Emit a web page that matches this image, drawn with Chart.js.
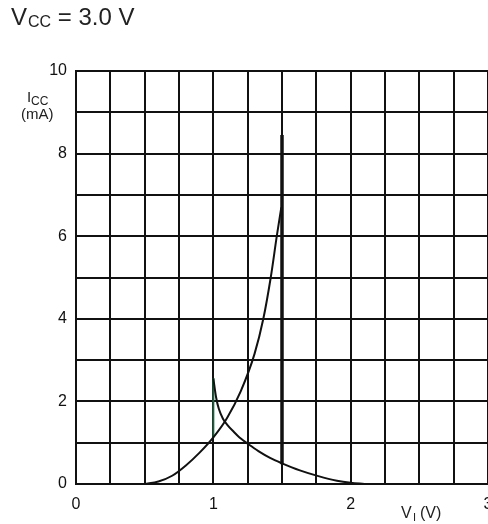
<!DOCTYPE html>
<html>
<head>
<meta charset="utf-8">
<script src="https://cdn.jsdelivr.net/npm/chart.js@4.4.0/dist/chart.umd.min.js"></script>
<style>
  html, body { margin: 0; padding: 0; background: #fff; overflow: hidden; }
  canvas { display: block; }
</style>
</head>
<body>
<canvas id="icc" width="488" height="524" style="width:488px;height:524px"></canvas>
<script>
// Icc vs VI at Vcc = 3.0 V
const risingV = [0.5, 0.6, 0.7, 0.8, 0.9, 1.0, 1.1, 1.2, 1.3, 1.364, 1.418, 1.462, 1.495];
const risingI = [0, 0.06, 0.2, 0.45, 0.76, 1.13, 1.6, 2.25, 3.15, 4.0, 5.0, 6.0, 6.7];

const fallingV = [1.0, 1.02, 1.04, 1.07, 1.1, 1.15, 1.2, 1.262, 1.34, 1.413, 1.5, 1.63, 1.765, 1.9, 2.0, 2.1];
const fallingI = [2.56, 2.1, 1.82, 1.58, 1.44, 1.26, 1.1, 0.95, 0.77, 0.63, 0.5, 0.33, 0.19, 0.08, 0.03, 0];

const jumpV = [1.5, 1.5];
const jumpI = [0.48, 8.45];

const stepV = [1.0, 1.0];
const stepI = [1.13, 2.56];

const xLabels = [0, 1, 2, 3];
const yLabels = [0, 2, 4, 6, 8, 10];

const FONT = "'Liberation Sans', Arial, sans-serif";
const INK = '#111111';

function pts(xs, ys) {
    return xs.map((x, i) => ({ x: x, y: ys[i] }));
}

// title + axis titles with subscripts
const labelsPlugin = {
    id: 'labels',
    afterDraw(chart) {
        const ctx = chart.ctx;
        ctx.save();
        ctx.fillStyle = '#222';
        ctx.textBaseline = 'alphabetic';
        ctx.textAlign = 'left';

        // V_CC = 3.0 V
        let x = 11;
        ctx.font = '24px ' + FONT;
        ctx.fillText('V', x, 25);
        x += ctx.measureText('V').width + 1;
        ctx.font = '16px ' + FONT;
        ctx.fillText('CC', x, 27);
        x += ctx.measureText('CC').width;
        ctx.font = '24px ' + FONT;
        ctx.fillText(' = 3.0 V', x, 25);

        // I_CC (mA)
        ctx.font = '15px ' + FONT;
        ctx.fillText('I', 27, 102);
        ctx.font = '12px ' + FONT;
        ctx.fillText('CC', 31, 105);
        ctx.font = '15px ' + FONT;
        ctx.fillText('(mA)', 21, 119);

        // V_I (V)
        ctx.font = '16px ' + FONT;
        ctx.fillText('V', 401, 518);
        ctx.font = '11px ' + FONT;
        ctx.fillText('I', 413, 521);
        ctx.font = '16px ' + FONT;
        ctx.fillText('(V)', 420, 518);
        ctx.restore();
    }
};

const ctx = document.getElementById('icc').getContext('2d');
new Chart(ctx, {
    type: 'scatter',
    data: {
        datasets: [
            { data: pts(risingV, risingI), showLine: true, borderColor: INK, borderWidth: 2, pointRadius: 0, cubicInterpolationMode: 'monotone' },
            { data: pts(fallingV, fallingI), showLine: true, borderColor: INK, borderWidth: 2, pointRadius: 0, cubicInterpolationMode: 'monotone' },
            { data: pts(jumpV, jumpI), showLine: true, borderColor: INK, borderWidth: 3.5, pointRadius: 0 },
            { data: pts(stepV, stepI), showLine: true, borderColor: '#1d5e3c', borderWidth: 2, pointRadius: 0 }
        ]
    },
    options: {
        responsive: false,
        devicePixelRatio: 1,
        animation: false,
        layout: { autoPadding: false, padding: { top: 71, left: 0, right: 0, bottom: 0 } },
        plugins: { legend: { display: false }, tooltip: { enabled: false }, title: { display: false } },
        scales: {
            x: {
                type: 'linear', min: 0, max: 3,
                // keep the "3" label from shrinking the plot (it is cut at the edge in the original)
                afterFit(s) { s.height = 40; s.paddingLeft = 0; s.paddingRight = 0; },
                grid: { color: INK, lineWidth: 2, drawTicks: false },
                border: { display: true, color: INK, width: 2 },
                ticks: {
                    stepSize: 0.25, padding: 11, color: '#111',
                    font: { family: FONT, size: 16 },
                    autoSkip: false, maxRotation: 0,
                    callback: v => xLabels.includes(v) ? String(v) : ''
                }
            },
            y: {
                type: 'linear', min: 0, max: 10,
                afterFit(s) { s.width = 76; s.paddingTop = 0; s.paddingBottom = 0; },
                grid: { color: INK, lineWidth: 2, drawTicks: false },
                border: { display: true, color: INK, width: 2 },
                ticks: {
                    stepSize: 1, padding: 9, color: '#111',
                    font: { family: FONT, size: 16 },
                    autoSkip: false,
                    callback: v => yLabels.includes(v) ? String(v) : ''
                }
            }
        }
    },
    plugins: [labelsPlugin]
});
</script>
</body>
</html>
